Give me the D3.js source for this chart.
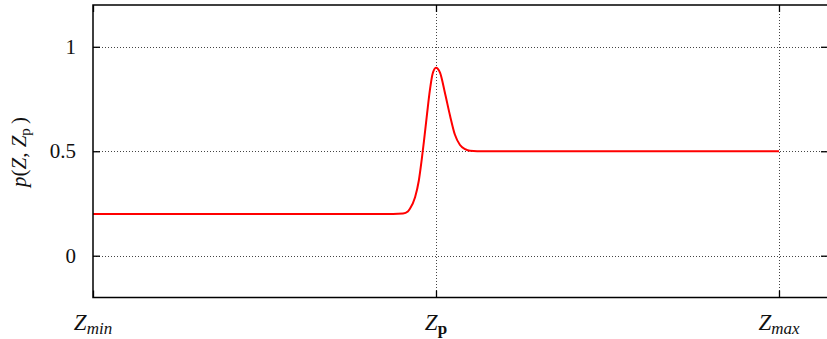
<!DOCTYPE html>
<html>
<head>
<meta charset="utf-8">
<script src="https://cdn.jsdelivr.net/npm/d3@7"></script>
<style>
  html, body { margin: 0; padding: 0; background: #fff; }
  svg { display: block; font-family: "Liberation Serif", "Times New Roman", serif; }
</style>
</head>
<body>
<svg id="chart" width="827" height="339"></svg>
<script>
// Curve samples: position along Z (Z_min = 0, Z_p = 1, Z_max = 2) and p(Z, Z_p)
const zPositions = [0, 0.875, 0.904, 0.918, 0.924, 0.939, 0.950, 0.958, 0.965, 0.974, 0.982, 0.990, 1.000, 1.012, 1.026, 1.041, 1.055, 1.070, 1.085, 1.099, 1.12, 2.0];
const pValues    = [0.2, 0.2, 0.202, 0.212, 0.225, 0.28, 0.36, 0.455, 0.55, 0.68, 0.79, 0.87, 0.9, 0.875, 0.78, 0.67, 0.58, 0.53, 0.51, 0.502, 0.5, 0.5];

// Axis ticks
const yTicks = [0, 0.5, 1];
const yTickLabels = ["0", "0.5", "1"];
const xTicks = [0, 1, 2];
const xTickLabels = [
  { main: "Z", sub: "min", subStyle: "italic" },
  { main: "Z", sub: "p", subStyle: "bold" },
  { main: "Z", sub: "max", subStyle: "italic" }
];

const svg = d3.select("#chart");
const m = { left: 93, right: 828, top: 5, bottom: 297.5 };

const x = d3.scaleLinear().domain([0, 2.1429]).range([m.left, m.right]);
const y = d3.scaleLinear().domain([-0.2, 1.2]).range([m.bottom, m.top]);

// Dotted grid
const grid = svg.append("g").attr("stroke", "#444").attr("stroke-width", 1)
  .attr("stroke-dasharray", "1,2").attr("fill", "none");
grid.selectAll("line.h").data(yTicks).join("line").attr("class", "h")
  .attr("x1", m.left).attr("x2", m.right)
  .attr("y1", d => Math.round(y(d)) + 0.5).attr("y2", d => Math.round(y(d)) + 0.5);
grid.selectAll("line.v").data(xTicks.filter(d => d > 0)).join("line").attr("class", "v")
  .attr("x1", d => Math.round(x(d)) + 0.5).attr("x2", d => Math.round(x(d)) + 0.5)
  .attr("y1", m.top).attr("y2", m.bottom);

// Left axis with inward ticks
const yAxis = d3.axisLeft(y).tickValues(yTicks)
  .tickFormat((d, i) => yTickLabels[i]).tickSize(-7).tickPadding(17);
const gy = svg.append("g").attr("transform", `translate(${m.left},0)`).call(yAxis);
gy.select(".domain").remove();
gy.selectAll(".tick line").attr("stroke", "#000").attr("stroke-width", 1.3);
gy.selectAll(".tick text").attr("font-size", 21).attr("fill", "#111")
  .attr("font-family", "Liberation Serif, serif");

// Right-side tick marks
const yAxisR = d3.axisRight(y).tickValues(yTicks).tickFormat("").tickSize(-7);
const gyr = svg.append("g").attr("transform", `translate(${m.right},0)`).call(yAxisR);
gyr.select(".domain").remove();
gyr.selectAll(".tick line").attr("stroke", "#000").attr("stroke-width", 1.3);

// Bottom and top tick marks
const xAxisB = d3.axisBottom(x).tickValues(xTicks).tickFormat("").tickSize(-7);
const gxb = svg.append("g").attr("transform", `translate(0,${m.bottom})`).call(xAxisB);
gxb.select(".domain").remove();
gxb.selectAll(".tick line").attr("stroke", "#000").attr("stroke-width", 1.3);
const xAxisT = d3.axisTop(x).tickValues(xTicks).tickFormat("").tickSize(-7);
const gxt = svg.append("g").attr("transform", `translate(0,${m.top})`).call(xAxisT);
gxt.select(".domain").remove();
gxt.selectAll(".tick line").attr("stroke", "#000").attr("stroke-width", 1.3);

// X tick labels with subscripts
const xl = svg.append("g").attr("font-size", 23).attr("fill", "#111");
xTicks.forEach((t, i) => {
  const lab = xTickLabels[i];
  const txt = xl.append("text").attr("x", x(t)).attr("y", 330).attr("text-anchor", "middle");
  txt.append("tspan").attr("font-style", "italic").text(lab.main);
  txt.append("tspan").attr("dy", 4).attr("font-size", 17)
    .attr("font-style", lab.subStyle === "italic" ? "italic" : "normal")
    .attr("font-weight", lab.subStyle === "bold" ? "bold" : "normal")
    .text(lab.sub);
});

// Y axis title: p(Z, Z_p)
const yt = svg.append("text").attr("transform", "translate(26,152) rotate(-90)")
  .attr("text-anchor", "middle").attr("font-size", 21).attr("fill", "#111");
yt.append("tspan").attr("font-style", "italic").text("p");
yt.append("tspan").text("(");
yt.append("tspan").attr("font-style", "italic").text("Z");
yt.append("tspan").text(", ");
yt.append("tspan").attr("font-style", "italic").text("Z");
yt.append("tspan").attr("dy", 4).attr("font-size", 15).text("p");
yt.append("tspan").attr("dy", -4).text("\u2009)");

// The curve
const pts = zPositions.map((z, i) => [z, pValues[i]]);
const line = d3.line().x(d => x(d[0])).y(d => y(d[1])).curve(d3.curveMonotoneX);
svg.append("path").datum(pts).attr("d", line)
  .attr("fill", "none").attr("stroke", "#f00").attr("stroke-width", 2);

// Frame
svg.append("rect").attr("x", m.left).attr("y", m.top)
  .attr("width", m.right - m.left).attr("height", m.bottom - m.top)
  .attr("fill", "none").attr("stroke", "#000").attr("stroke-width", 1.5);
</script>
</body>
</html>
